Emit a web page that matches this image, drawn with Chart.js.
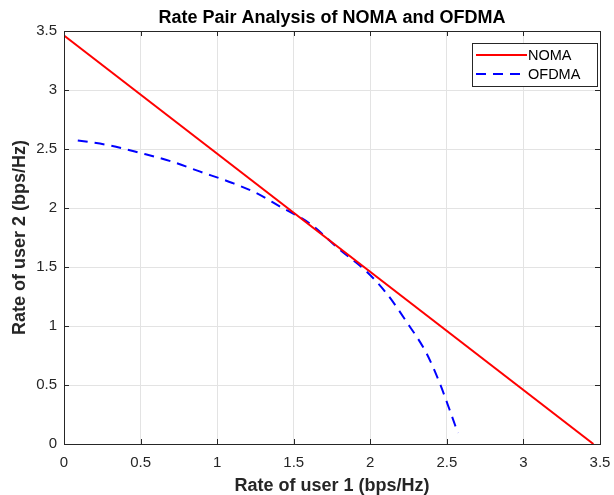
<!DOCTYPE html>
<html>
<head>
<meta charset="utf-8">
<script src="https://cdn.jsdelivr.net/npm/chart.js@4"></script>
<style>
  html, body { margin: 0; padding: 0; background: #fff; }
  #wrap { width: 614px; height: 495px; }
</style>
</head>
<body>
<div id="wrap"><canvas id="c" width="614" height="495"></canvas></div>
<script>
const chartTitle = "Rate Pair Analysis of NOMA and OFDMA";
const xTitle = "Rate of user 1 (bps/Hz)";
const yTitle = "Rate of user 2 (bps/Hz)";
const xTicks = [0, 0.5, 1, 1.5, 2, 2.5, 3, 3.5];
const yTicks = [0, 0.5, 1, 1.5, 2, 2.5, 3, 3.5];

const nomaLabel = "NOMA";
const nomaX = [0, 3.457];
const nomaY = [3.462, 0];

const ofdmaLabel = "OFDMA";
const ofdmaX = [0.09, 0.3, 0.5, 0.7, 0.885, 1.1, 1.255, 1.408, 1.6, 1.8, 1.974, 2.104, 2.235, 2.366, 2.453, 2.518, 2.572];
const ofdmaY = [2.573, 2.53, 2.466, 2.395, 2.31, 2.212, 2.127, 2.014, 1.873, 1.647, 1.463, 1.28, 1.039, 0.771, 0.517, 0.29, 0.093];

const AX = '#262626';
const FONT = "'Liberation Sans', Arial, Helvetica, sans-serif";

function pts(xs, ys) { return xs.map((x, i) => ({ x: x, y: ys[i] })); }

const matlabPlugin = {
  id: 'matlab',
  afterDraw(chart) {
    const ctx = chart.ctx;
    const a = chart.chartArea;
    const xs = chart.scales.x, ys = chart.scales.y;
    ctx.save();
    ctx.strokeStyle = AX;
    ctx.lineWidth = 1;
    ctx.strokeRect(Math.round(a.left) + 0.5, Math.round(a.top) + 0.5, Math.round(a.right - a.left), Math.round(a.bottom - a.top));
    const tl = 5;
    ctx.beginPath();
    xTicks.forEach(v => {
      const p = Math.round(xs.getPixelForValue(v)) + 0.5;
      ctx.moveTo(p, a.bottom); ctx.lineTo(p, a.bottom - tl);
      ctx.moveTo(p, a.top); ctx.lineTo(p, a.top + tl);
    });
    yTicks.forEach(v => {
      const p = Math.round(ys.getPixelForValue(v)) + 0.5;
      ctx.moveTo(a.left, p); ctx.lineTo(a.left + tl, p);
      ctx.moveTo(a.right, p); ctx.lineTo(a.right - tl, p);
    });
    ctx.stroke();
    ctx.fillStyle = '#000';
    ctx.font = "bold 18px " + FONT;
    ctx.textAlign = 'center';
    ctx.textBaseline = 'middle';
    ctx.fillText(chartTitle, (a.left + a.right) / 2, 18.5);
    const lx = 472, ly = 43, lw = 125, lh = 43;
    ctx.fillStyle = '#fff';
    ctx.fillRect(lx, ly, lw, lh);
    ctx.strokeStyle = AX;
    ctx.lineWidth = 1;
    ctx.strokeRect(lx + 0.5, ly + 0.5, lw, lh);
    chart.data.datasets.forEach((ds, i) => {
      const yy = 55 + i * 19;
      ctx.beginPath();
      ctx.strokeStyle = ds.borderColor;
      ctx.lineWidth = ds.borderWidth;
      ctx.setLineDash(ds.borderDash || []);
      ctx.moveTo(476, yy); ctx.lineTo(527, yy);
      ctx.stroke();
      ctx.setLineDash([]);
      ctx.fillStyle = '#000';
      ctx.font = "14.5px " + FONT;
      ctx.textAlign = 'left';
      ctx.textBaseline = 'middle';
      ctx.fillText(ds.label, 528, yy + 0.5);
    });
    ctx.restore();
  }
};

new Chart(document.getElementById('c'), {
  type: 'scatter',
  data: {
    datasets: [
      {
        label: nomaLabel,
        data: pts(nomaX, nomaY),
        showLine: true,
        borderColor: '#ff0000',
        backgroundColor: '#ff0000',
        borderWidth: 2,
        pointRadius: 0,
        pointHoverRadius: 0,
        tension: 0
      },
      {
        label: ofdmaLabel,
        data: pts(ofdmaX, ofdmaY),
        showLine: true,
        borderColor: '#0000ff',
        backgroundColor: '#0000ff',
        borderWidth: 2,
        borderDash: [10, 7],
        pointRadius: 0,
        pointHoverRadius: 0,
        cubicInterpolationMode: 'monotone'
      }
    ]
  },
  options: {
    responsive: false,
    animation: false,
    events: [],
    layout: { padding: { top: 31, right: 14, left: 0, bottom: 0 } },
    plugins: {
      legend: { display: false },
      title: { display: false },
      tooltip: { enabled: false }
    },
    scales: {
      x: {
        type: 'linear',
        min: 0, max: 3.5,
        afterBuildTicks: s => { s.ticks = xTicks.map(v => ({ value: v })); },
        afterFit: s => { s.height = 51; s.paddingLeft = 0; s.paddingRight = 0; },
        border: { display: false },
        grid: { color: '#e3e3e3', lineWidth: 1, drawTicks: false },
        ticks: { color: AX, padding: 10, font: { family: FONT, size: 15, lineHeight: 1.2 }, maxRotation: 0, autoSkip: false, callback: v => String(v) },
        title: { display: true, text: xTitle, color: AX, font: { family: FONT, size: 18, weight: 'bold', lineHeight: 1 }, padding: { top: 0, bottom: 0 } }
      },
      y: {
        type: 'linear',
        min: 0, max: 3.5,
        afterBuildTicks: s => { s.ticks = yTicks.map(v => ({ value: v })); },
        afterFit: s => { s.width = 64; s.paddingTop = 0; s.paddingBottom = 0; },
        border: { display: false },
        grid: { color: '#e3e3e3', lineWidth: 1, drawTicks: false },
        ticks: { color: AX, padding: 7, font: { family: FONT, size: 15 }, autoSkip: false, callback: v => String(v) },
        title: { display: true, text: yTitle, color: AX, font: { family: FONT, size: 18, weight: 'bold', lineHeight: 1 }, padding: { top: 11, bottom: 0 } }
      }
    }
  },
  plugins: [matlabPlugin]
});
</script>
</body>
</html>
